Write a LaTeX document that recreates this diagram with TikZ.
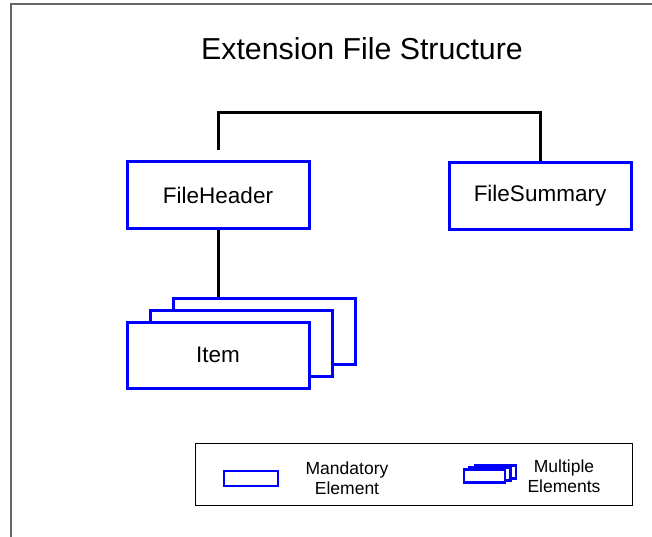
\documentclass[tikz,border=0pt]{standalone}
\usepackage{fontspec}
\setmainfont{Liberation Sans}
\setsansfont{Liberation Sans}
\definecolor{boxblue}{RGB}{0,0,255}
\definecolor{framegray}{RGB}{100,100,100}

\begin{document}
\begin{tikzpicture}[
    x=1pt, y=-1pt,
    font=\sffamily\fontsize{22.5}{26}\selectfont,
    element/.style={draw=boxblue, line width=3pt, fill=white, minimum width=182pt, minimum height=66pt, inner sep=0},
    smallelement/.style={draw=boxblue, line width=2.5pt, fill=white, inner sep=0},
    link/.style={line width=3pt, black},
    legendtext/.style={align=center, font=\sffamily\fontsize{17.5}{20}\selectfont}
]

\useasboundingbox (0,0) rectangle (652,537);
\draw[framegray, line width=1.5pt] (11,537) -- (11,4) -- (652,4);

\node[font=\sffamily\fontsize{30.3}{34}\selectfont] (title) at (362,49) {Extension File Structure};

\node[element] (header) at (218,195) {FileHeader};
\node[element] (summary) at (540,196) {FileSummary};

% stacked items, back to front
\foreach \k in {2,1}{
    \node[element] (item\k) at ({218+23*\k}, {355-12*\k}) {};
}
\node[element] (item) at (218,355) {Item};

\draw[link, shorten <=10pt] (header.north) -- ++(0,-48) -| (summary.north);
\draw[link] (header.south) -- (header.south |- item2.north);

% legend
\node[draw, line width=1pt, minimum width=437pt, minimum height=62pt, inner sep=0] (legend) at (414,474.5) {};
\node[smallelement, minimum width=54pt, minimum height=15pt] (mandicon) at (251,478.5) {};
\node[legendtext] (mandtext) at (347,478) {Mandatory\\Element};
\foreach \k in {2,1,0}{
    \node[smallelement, minimum width=41pt, minimum height=13pt] (multicon\k) at ({484.5+5.5*\k}, {476-2*\k}) {};
}
\node[legendtext] (multtext) at (564,476) {Multiple\\Elements};

\end{tikzpicture}
\end{document}
